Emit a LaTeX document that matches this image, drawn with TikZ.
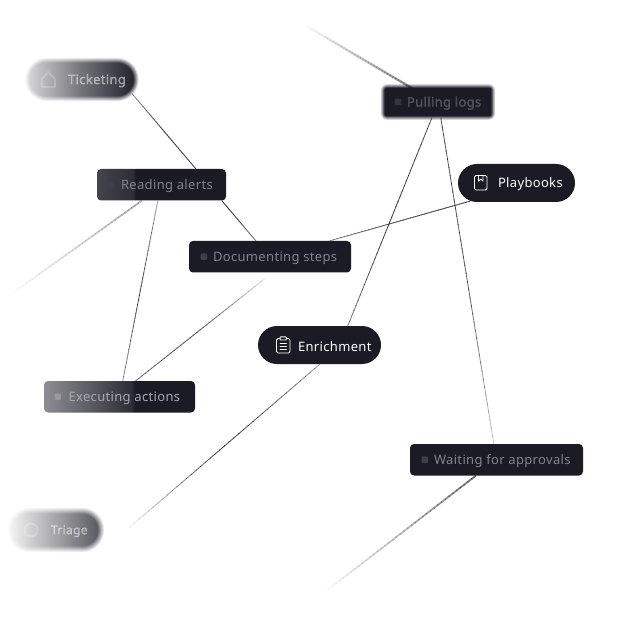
\documentclass[tikz,border=0pt]{standalone}
\usepackage{fontspec}
\setmainfont[LetterSpace=2.6]{Noto Sans}
\newfontfamily\blobfont[FakeBold=2.2,LetterSpace=2.6]{Noto Sans}
\usetikzlibrary{calc}
\pgfdeclarelayer{lines}
\pgfsetlayers{lines,main}
\definecolor{ink}{HTML}{1B1B26}
\definecolor{muted}{HTML}{83838E}
\definecolor{mark}{HTML}{3F3F4B}
\pgfdeclarehorizontalshading{readshade}{100bp}{color(0bp)=(ink!82!white); color(25bp)=(ink!82!white); color(39bp)=(ink!92!white); color(40bp)=(ink); color(100bp)=(ink)}
\pgfdeclarehorizontalshading{execshade}{100bp}{color(0bp)=(ink!50!white); color(25bp)=(ink!50!white); color(54bp)=(ink!92!white); color(55bp)=(ink); color(100bp)=(ink)}
\pgfdeclarehorizontalshading{tickshade}{100bp}{color(0bp)=(ink!20!white); color(25bp)=(ink!20!white); color(50bp)=(ink!62!white); color(75bp)=(ink!96!white); color(100bp)=(ink)}
\pgfdeclarehorizontalshading{triashade}{100bp}{color(0bp)=(ink!8!white); color(25bp)=(ink!8!white); color(50bp)=(ink!40!white); color(75bp)=(ink!72!white); color(100bp)=(ink!72!white)}
\tikzset{
  x=1pt,y=-1pt,
  stepbox/.style={minimum height=31.5,inner sep=0pt,draw=none},
  pill/.style={minimum height=38,inner sep=0pt,draw=none},
  lab/.style={anchor=west,inner sep=0pt,font=\fontsize{13}{15}\selectfont,text=muted},
  blob/.style={anchor=west,inner sep=0pt,font=\blobfont\fontsize{13}{15}\selectfont},
  whitelab/.style={anchor=west,inner sep=0pt,font=\fontsize{13}{15}\selectfont,text=white},
  tick/.style={minimum size=6.5,inner sep=0pt,fill=mark,rounded corners=1},
  icon/.style={draw=white,line width=.9pt,rounded corners=1.5,line cap=round,line join=round},
}
% fading connector: from, to, opacity at start, middle, end, colour, width
\newcommand\lnk[7]{%
  \foreach \i in {0,...,39}{%
    \pgfmathsetmacro\tt{\i/40}%
    \pgfmathsetmacro\tu{(\i+1.15)/40}%
    \pgfmathsetmacro\op{\tt<.5 ? #3+(#4-#3)*\tt*2 : #4+(#5-#4)*(\tt-.5)*2}%
    \draw[draw=#6,line width=#7,opacity=\op] ($(#1)!\tt!(#2)$) -- ($(#1)!\tu!(#2)$);
  }}
% soft-edged box over a named node: node, radius, blur, shading
\newcommand\soft[4]{%
  \foreach \k in {1,...,10}{%
    \pgfmathsetmacro\inf{#3*(1-(\k-1)/4.5)}%
    \pgfmathsetmacro\al{1/(11-\k)}%
    \pgfmathsetmacro\rr{max(#2+\inf,1)}%
    \shade[shading=#4,opacity=\al,rounded corners=\rr]
      ([shift={(-\inf,-\inf)}]#1.north west) rectangle ([shift={(\inf,\inf)}]#1.south east);
  }}
\begin{document}
\begin{tikzpicture}
\useasboundingbox (0,0) rectangle (629,620);
\begin{pgfonlayer}{lines}
\fill[white] (0,0) rectangle (629,620);
\end{pgfonlayer}

% nodes
\node[pill,minimum width=108] (ticket) at (82,79.5) {};
\node[stepbox,minimum width=129,shading=readshade,shade,rounded corners=4] (read) at (161.5,184.75) {};
\node[stepbox,minimum width=110] (pull) at (438,102) {};
\node[pill,fill=ink,minimum width=117,rounded corners=19] (play) at (516.5,183) {};
\node[stepbox,minimum width=162,fill=ink,rounded corners=4] (doc) at (270,256.75) {};
\node[pill,fill=ink,minimum width=123,rounded corners=19] (enrich) at (319.5,345) {};
\node[stepbox,minimum width=151,shading=execshade,shade,rounded corners=4] (exec) at (119.5,396.75) {};
\node[pill,minimum width=90] (triage) at (56,530) {};
\node[stepbox,minimum width=173,fill=ink,rounded corners=4] (wait) at (496.5,459.75) {};

\coordinate (endtl) at (303,24);
\coordinate (endl) at (10,295);
\coordinate (endbr) at (325,592);
\coordinate (endtri) at (130,527);

% connectors
\begin{pgfonlayer}{lines}
\lnk{endtl}{[shift={(29,2)}]pull.north west}{0}{.22}{.5}{ink}{1.9}
\lnk{endtl}{[shift={(29,2)}]pull.north west}{0}{.06}{.1}{ink}{3.2}
\lnk{[shift={(49,0)}]pull.south west}{[shift={(90,0)}]enrich.north west}{.75}{.85}{.55}{ink}{.8}
\lnk{[shift={(58,0)}]pull.south west}{[shift={(84,0)}]wait.north west}{.75}{.7}{.2}{ink}{.8}
\lnk{[shift={(104,33)}]ticket.north west}{[shift={(99,0)}]read.north west}{.4}{.8}{.75}{ink}{.9}
\lnk{[shift={(45,0)}]read.south west}{endl}{.35}{.16}{0}{ink}{1.7}
\lnk{[shift={(61,0)}]read.south west}{[shift={(79,0)}]exec.north west}{.4}{.8}{.45}{ink}{.8}
\lnk{[shift={(125,0)}]read.south west}{[shift={(67,0)}]doc.north west}{.9}{.8}{.55}{ink}{.8}
\lnk{[shift={(141,0)}]doc.north west}{[shift={(12,-1)}]play.south west}{.55}{.8}{.85}{ink}{.8}
\lnk{[shift={(76,6)}]doc.south west}{[shift={(92,0)}]exec.north west}{.15}{.75}{.6}{ink}{.8}
\lnk{[shift={(62,0)}]enrich.south west}{endtri}{.45}{.85}{.05}{ink}{.8}
\lnk{[shift={(66,0)}]wait.south west}{endbr}{.62}{.28}{0}{ink}{1.7}
\end{pgfonlayer}

% soft nodes
\soft{ticket}{19}{2.5}{tickshade}
\soft{triage}{19}{3}{triashade}
\begin{scope}
\foreach \k in {1,...,10}{%
  \pgfmathsetmacro\inf{2*(1-(\k-1)/4.5)}%
  \pgfmathsetmacro\al{1/(11-\k)}%
  \pgfmathsetmacro\rr{max(4+\inf,1)}%
  \fill[ink,opacity=\al,rounded corners=\rr]
    ([shift={(-\inf,-\inf)}]pull.north west) rectangle ([shift={(\inf,\inf)}]pull.south east);
}
\end{scope}

% steps
\node[tick] (read-t) at ([xshift=14]read.west) {};
\node[lab] (read-l) at ([shift={(24,1.2)}]read.west) {Reading alerts};
\node[tick] (doc-t) at ([xshift=15]doc.west) {};
\node[lab] (doc-l) at ([shift={(24,1.2)}]doc.west) {Documenting steps};
\node[tick,fill=white,opacity=.2] (exec-t) at ([xshift=14]exec.west) {};
\node[lab,text=white!62!ink] (exec-l) at ([shift={(24.5,1.2)}]exec.west) {Executing actions};
\node[tick] (wait-t) at ([xshift=15]wait.west) {};
\node[lab] (wait-l) at ([shift={(24,1.2)}]wait.west) {Waiting for approvals};

% blurred labels
\node[blob,text=muted,opacity=.45] (pull-l) at ([shift={(24,1.2)}]pull.west) {Pulling logs};
\node[tick,opacity=.7] (pull-t) at ([xshift=15]pull.west) {};
\node[blob,text=white,opacity=.42] (ticket-l) at ([shift={(40,1.2)}]ticket.west) {Ticketing};
\node[blob,text=white,opacity=.42,font=\blobfont\fontsize{12}{14}\selectfont] (triage-l) at ([shift={(40,1.2)}]triage.west) {Triage};

% blurred icons
\draw[white,line width=1.6pt,opacity=.22,line join=round] (42,87) -- (42,79) -- (48,72) -- (55,79) -- (55,87) -- cycle;
\draw[white,line width=2pt,opacity=.2] (31,530) circle (6.5);

% bright pills
\node[whitelab] (play-l) at ([shift={(40,1.2)}]play.west) {Playbooks};
\node[whitelab] (enrich-l) at ([shift={(40,1.2)}]enrich.west) {Enrichment};
% book icon
\draw[icon] (474.5,175.5) rectangle (487,190);
\draw[icon,rounded corners=0] (478.5,175.5) -- (478.5,181) -- (480.7,179.2) -- (483,181) -- (483,175.5);
% clipboard icon
\draw[icon] (276.5,338.5) rectangle (290,353);
\draw[icon,fill=ink,rounded corners=1] (280,336.8) rectangle (286.5,340);
\draw[icon] (280,343.5) -- (286.5,343.5) (280,346.3) -- (286.5,346.3) (280,349.1) -- (286.5,349.1);
\end{tikzpicture}
\end{document}
